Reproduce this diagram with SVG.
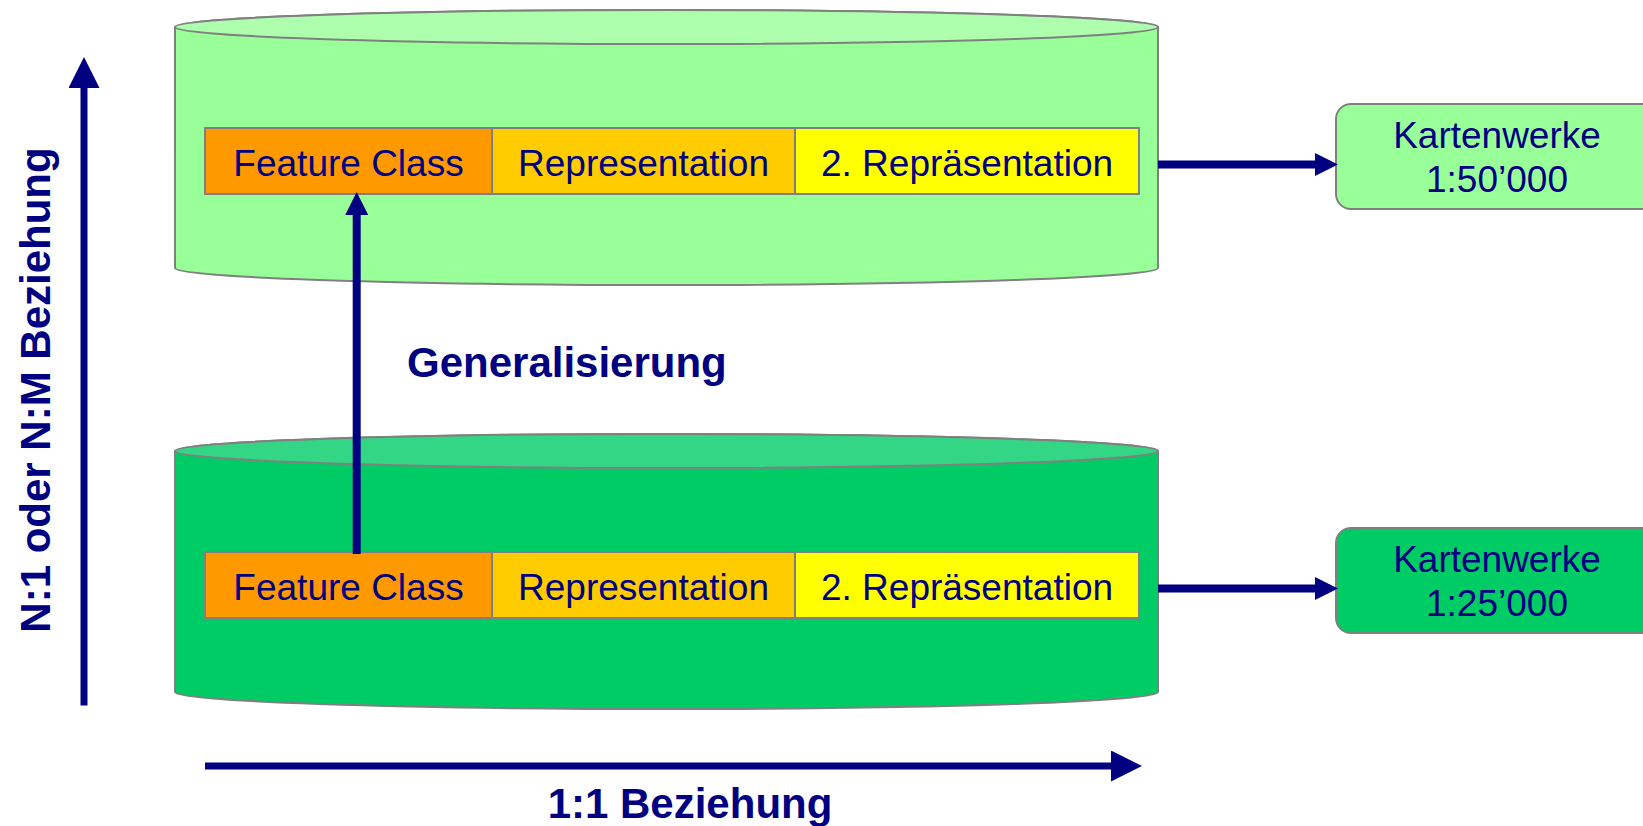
<svg xmlns="http://www.w3.org/2000/svg" width="1643" height="826" viewBox="0 0 1643 826">
  <style>
    .cyl { stroke: #808080; stroke-width: 2; }
    .cell { stroke: #808080; stroke-width: 2; }
    .box { stroke: #808080; stroke-width: 2; }
    .t { font-family: "Liberation Sans", Arial, sans-serif; font-size: 37px; fill: #000080; text-anchor: middle; }
    .b { font-family: "Liberation Sans", Arial, sans-serif; font-size: 42px; font-weight: bold; fill: #000080; }
    .conn { stroke: #000080; fill: none; }
  </style>
  <defs>
    <marker id="headS" viewBox="0 0 23 23" markerWidth="23" markerHeight="23" markerUnits="userSpaceOnUse" refX="1" refY="11.5" orient="auto">
      <path d="M0,0 L23,11.5 L0,23 Z" fill="#000080"/>
    </marker>
    <marker id="headL" viewBox="0 0 31 31" markerWidth="31" markerHeight="31" markerUnits="userSpaceOnUse" refX="1" refY="15.5" orient="auto">
      <path d="M0,0 L31,15.5 L0,31 Z" fill="#000080"/>
    </marker>
  </defs>

  <rect width="1643" height="826" fill="#ffffff"/>

  <g id="cylinder-50k">
    <path class="cyl" fill="#99FF99" d="M175,27 A491.5,17 0 0 1 1158,27 L1158,268 A491.5,17 0 0 1 175,268 Z"/>
    <ellipse class="cyl" fill="#ADFFAD" cx="666.5" cy="27" rx="491.5" ry="17"/>
    <g id="bar-50k">
      <rect class="cell" x="205" y="128" width="287" height="66" fill="#FF9900"/>
      <rect class="cell" x="492" y="128" width="303" height="66" fill="#FFCC00"/>
      <rect class="cell" x="795" y="128" width="344" height="66" fill="#FFFF00"/>
      <text class="t" x="348.5" y="176">Feature Class</text>
      <text class="t" x="643.5" y="176">Representation</text>
      <text class="t" x="967" y="176">2. Repräsentation</text>
    </g>
  </g>

  <g id="cylinder-25k">
    <path class="cyl" fill="#00CC66" d="M175,451 A491.5,17 0 0 1 1158,451 L1158,692 A491.5,17 0 0 1 175,692 Z"/>
    <ellipse class="cyl" fill="#33D685" cx="666.5" cy="451" rx="491.5" ry="17"/>
    <g id="bar-25k">
      <rect class="cell" x="205" y="552" width="287" height="66" fill="#FF9900"/>
      <rect class="cell" x="492" y="552" width="303" height="66" fill="#FFCC00"/>
      <rect class="cell" x="795" y="552" width="344" height="66" fill="#FFFF00"/>
      <text class="t" x="348.5" y="600">Feature Class</text>
      <text class="t" x="643.5" y="600">Representation</text>
      <text class="t" x="967" y="600">2. Repräsentation</text>
    </g>
  </g>

  <g id="kartenwerke-50k">
    <rect class="box" x="1336" y="104" width="322" height="105" rx="15" ry="15" fill="#99FF99"/>
    <text class="t" x="1497" y="147.5">Kartenwerke</text>
    <text class="t" x="1497" y="192">1:50’000</text>
  </g>

  <g id="kartenwerke-25k">
    <rect class="box" x="1336" y="528" width="322" height="105" rx="15" ry="15" fill="#00CC66"/>
    <text class="t" x="1497" y="571.5">Kartenwerke</text>
    <text class="t" x="1497" y="616">1:25’000</text>
  </g>

  <g id="label-generalisierung">
    <text class="b" x="407" y="377">Generalisierung</text>
  </g>

  <g id="axis-labels">
    <text class="b" x="690" y="818" text-anchor="middle">1:1 Beziehung</text>
    <text class="b" transform="translate(50,390) rotate(-90)" text-anchor="middle">N:1 oder N:M Beziehung</text>
  </g>

  <g id="connectors">
    <line class="conn" stroke-width="8" x1="356.7" y1="554" x2="356.7" y2="214" marker-end="url(#headS)"/>
    <line class="conn" stroke-width="8" x1="1158" y1="164.5" x2="1316" y2="164.5" marker-end="url(#headS)"/>
    <line class="conn" stroke-width="8" x1="1158" y1="588.5" x2="1316" y2="588.5" marker-end="url(#headS)"/>
    <line class="conn" stroke-width="7" x1="84" y1="705.5" x2="84" y2="87" marker-end="url(#headL)"/>
    <line class="conn" stroke-width="7" x1="205" y1="766" x2="1112" y2="766" marker-end="url(#headL)"/>
  </g>
</svg>
